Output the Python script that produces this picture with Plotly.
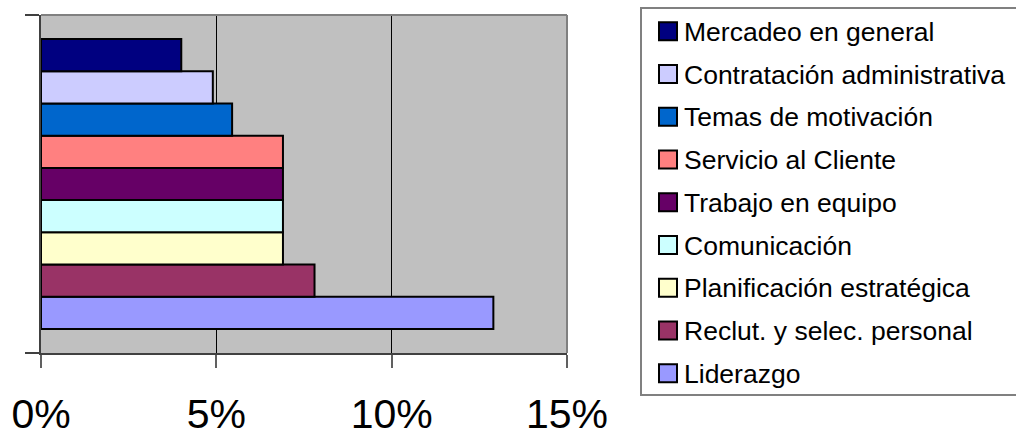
import plotly.graph_objects as go

# Data (listed bottom-to-top as drawn in the chart)
categories = [
    "Liderazgo",
    "Reclut. y selec. personal",
    "Planificación estratégica",
    "Comunicación",
    "Trabajo en equipo",
    "Servicio al Cliente",
    "Temas de motivación",
    "Contratación administrativa",
    "Mercadeo en general",
]
values = [12.9, 7.8, 6.9, 6.9, 6.9, 6.9, 5.45, 4.9, 4.0]
colors = [
    "#9999FF", "#993366", "#FFFFCC", "#CCFFFF", "#660066",
    "#FF8080", "#0066CC", "#CCCCFF", "#000080",
]
tick_values = [0, 5, 10, 15]
tick_labels = ["0%", "5%", "10%", "15%"]

FONT = "Liberation Sans, Arial, sans-serif"
W, H = 1016, 436
L, R_EDGE, T, B_EDGE = 41, 567, 15, 353
PW, PH = R_EDGE - L, B_EDGE - T


def px(xp):
    return (xp - L) / PW


def py(yp):
    return (B_EDGE - yp) / PH


fig = go.Figure()
for name, v, c in zip(categories, values, colors):
    fig.add_trace(go.Bar(
        x=[v], y=[0], name=name, orientation="h",
        marker=dict(color=c, line=dict(color="black", width=2)),
        showlegend=False,
    ))

shapes = []
annotations = []
# plot border (top/right gray)
shapes.append(dict(type="line", xref="paper", yref="paper", x0=0, x1=1, y0=1, y1=1,
                   line=dict(color="#808080", width=2), layer="above"))
shapes.append(dict(type="line", xref="paper", yref="paper", x0=1, x1=1, y0=0, y1=1,
                   line=dict(color="#808080", width=2), layer="above"))

# custom legend box
shapes.append(dict(type="rect", xref="paper", yref="paper",
                   x0=px(641), x1=px(1030), y0=py(395), y1=py(8),
                   line=dict(color="#808080", width=2), fillcolor="white", layer="above"))

legend_order = list(zip(categories, colors))[::-1]  # top to bottom
for i, (name, c) in enumerate(legend_order):
    cy = 31.3 + 42.75 * i
    shapes.append(dict(type="rect", xref="paper", yref="paper",
                       x0=px(659), x1=px(677), y0=py(cy + 9), y1=py(cy - 9),
                       line=dict(color="black", width=2), fillcolor=c, layer="above"))
    annotations.append(dict(xref="paper", yref="paper", x=px(682), y=py(cy + 0.5),
                            xanchor="left", yanchor="middle", text=name, showarrow=False,
                            font=dict(family=FONT, size=26.5, color="black")))

fig.update_layout(
    width=W, height=H,
    margin=dict(l=L, r=W - R_EDGE, t=T, b=H - B_EDGE, pad=0, autoexpand=False),
    paper_bgcolor="white", plot_bgcolor="#C0C0C0",
    barmode="group", bargap=0.142, bargroupgap=0,
    showlegend=False,
    shapes=shapes, annotations=annotations,
    font=dict(family=FONT, color="black"),
)
fig.update_xaxes(
    range=[0, 15], tickvals=tick_values, ticktext=tick_labels,
    tickfont=dict(family=FONT, size=41, color="black"),
    ticks="outside", ticklen=13, tickcolor="#606060", tickwidth=2,
    ticklabelstandoff=11, automargin=False,
    showgrid=True, gridcolor="black", gridwidth=1,
    zeroline=False, showline=True, linecolor="#404040", linewidth=2,
    fixedrange=True,
)
fig.update_yaxes(
    range=[-0.5, 0.5], tickvals=[-0.5, 0.5], showticklabels=False,
    ticks="outside", ticklen=14, tickcolor="#404040", tickwidth=2,
    showgrid=False, zeroline=False, showline=True, linecolor="#404040", linewidth=2,
    automargin=False, fixedrange=True,
)
fig.write_html("out.html")
